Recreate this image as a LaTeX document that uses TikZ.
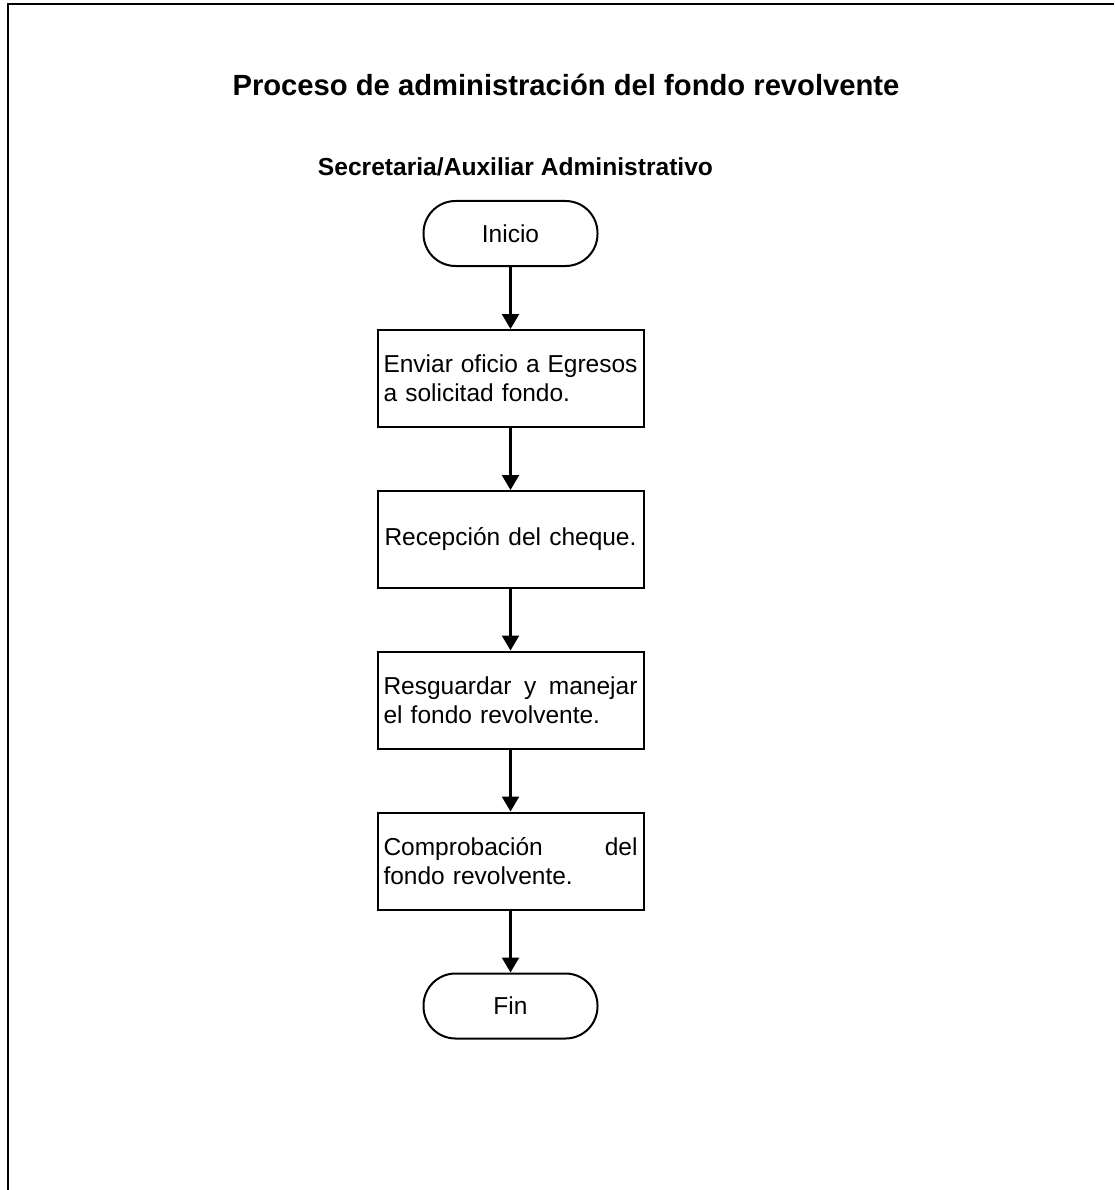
\documentclass[tikz,border=0pt]{standalone}
\usepackage{fontspec}
\setmainfont{Liberation Sans}
\usetikzlibrary{arrows.meta}
\begin{document}
\begin{tikzpicture}[x=1pt,y=-1pt,
  frameline/.style={line width=2.2pt},
  proc/.style={draw,line width=2pt,minimum width=266pt,minimum height=97pt,
    text width=254pt,inner xsep=6pt,align=left,font=\fontsize{24.5}{29}\selectfont},
  term/.style={draw,line width=2pt,rounded corners=32pt,minimum width=174pt,
    minimum height=65pt,font=\fontsize{24.5}{29}\selectfont},
  flow/.style={line width=2.4pt,-{Triangle[length=15pt,width=17pt]}},
  ]
\useasboundingbox (0,0) rectangle (1114,1190);
% frame (top and left edges only)
\coordinate (ftr) at (1114,4);
\coordinate (ftl) at (8,4);
\coordinate (fbl) at (8,1190);
\draw[frameline] (ftr) -- (ftl) -- (fbl);

\node[anchor=base,font=\bfseries\fontsize{29.2}{34}\selectfont] (title) at (566,96)
  {Proceso de administración del fondo revolvente};
\node[anchor=base,font=\bfseries\fontsize{24.6}{28}\selectfont] (lane) at (515.5,176)
  {Secretaria/Auxiliar Administrativo};

\node[term] (inicio) at (510.5,233.5) {Inicio};
\node[proc] (p1) at (510.5,378.5) {Enviar\hfill oficio\hfill a\hfill Egresos\\a solicitad fondo.};
\node[proc,align=center] (p2) at (510.5,539.5) {Recepción del cheque.};
\node[proc] (p3) at (510.5,700) {Resguardar\hfill y\hfill manejar\\el fondo revolvente.};
\node[proc] (p4) at (510.5,861) {Comprobación\hfill del\\fondo revolvente.};
\node[term] (fin) at (510.5,1006) {Fin};

\draw[flow] (inicio) -- (p1);
\draw[flow] (p1) -- (p2);
\draw[flow] (p2) -- (p3);
\draw[flow] (p3) -- (p4);
\draw[flow] (p4) -- (fin);
\end{tikzpicture}
\end{document}
